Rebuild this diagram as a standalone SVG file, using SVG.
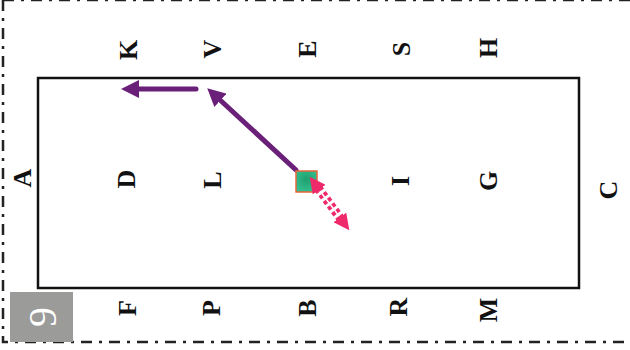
<svg xmlns="http://www.w3.org/2000/svg" width="630" height="350" viewBox="0 0 630 350">
<style>
.lbl{font-family:"Liberation Serif","Times New Roman",serif;font-weight:bold;font-size:26px;fill:#111;text-anchor:middle}
.border{fill:none;stroke:#222;stroke-width:2.5;stroke-dasharray:11 7 3 7}
.purple{stroke:#6a1f78;stroke-width:5;fill:none;stroke-linecap:round}
</style>
<defs>
<marker id="ph" viewBox="0 0 18 18" markerWidth="18" markerHeight="18" markerUnits="userSpaceOnUse" refX="2" refY="9" orient="auto">
<path d="M0,0 L18,9 L0,18 z" fill="#6a1f78"/>
</marker>
<marker id="kh" viewBox="0 0 16 16" markerWidth="16" markerHeight="16" markerUnits="userSpaceOnUse" refX="2" refY="8" orient="auto-start-reverse">
<path d="M0,0 L16,8 L0,16 z" fill="#ee2a6b"/>
</marker>
<radialGradient id="sq" cx="0.5" cy="0.4" r="0.6">
<stop offset="0" stop-color="#1f9e70"/>
<stop offset="1" stop-color="#33c08d"/>
</radialGradient>
</defs>
<rect width="630" height="350" fill="#fff"/>
<g id="frame">
<path class="border" d="M3,0 L3,342 L630,342"/>
<path class="border" d="M3,0 L630,0" stroke="#ccc"/>
</g>
<g id="arena">
<rect x="38" y="78" width="541" height="210" fill="none" stroke="#111" stroke-width="2.5"/>
</g>
<g id="badge">
<rect x="10" y="292" width="63" height="50" fill="#9b9b9a"/>
<text transform="translate(42,317) rotate(-90)" y="14" style="font-family:'Liberation Serif','Times New Roman',serif;font-size:40px;fill:#fff;text-anchor:middle">9</text>
</g>
<g id="letters">
<g id="K"><text class="lbl" transform="translate(128,50) rotate(-90)" y="9">K</text></g>
<g id="V"><text class="lbl" transform="translate(212,49) rotate(-90)" y="9">V</text></g>
<g id="E"><text class="lbl" transform="translate(307,49) rotate(-90)" y="9">E</text></g>
<g id="S"><text class="lbl" transform="translate(401,49) rotate(-90)" y="9">S</text></g>
<g id="H"><text class="lbl" transform="translate(488,48) rotate(-90)" y="9">H</text></g>
<g id="F"><text class="lbl" transform="translate(127,308) rotate(-90)" y="9">F</text></g>
<g id="P"><text class="lbl" transform="translate(211,308) rotate(-90)" y="9">P</text></g>
<g id="B"><text class="lbl" transform="translate(307,308) rotate(-90)" y="9">B</text></g>
<g id="R"><text class="lbl" transform="translate(398,307) rotate(-90)" y="9">R</text></g>
<g id="M"><text class="lbl" transform="translate(488,310) rotate(-90)" y="9">M</text></g>
<g id="A"><text class="lbl" transform="translate(22,178) rotate(-90)" y="9">A</text></g>
<g id="D"><text class="lbl" transform="translate(126,179) rotate(-90)" y="9">D</text></g>
<g id="L"><text class="lbl" transform="translate(212,180) rotate(-90)" y="9">L</text></g>
<g id="I"><text class="lbl" transform="translate(400,181) rotate(-90)" y="9">I</text></g>
<g id="G"><text class="lbl" transform="translate(488,181) rotate(-90)" y="9">G</text></g>
<g id="C"><text class="lbl" transform="translate(608,190) rotate(-90)" y="9">C</text></g>
</g>
<g id="connectors">
<line class="purple" x1="196" y1="89" x2="137" y2="89" marker-end="url(#ph)"/>
<line class="purple" x1="296" y1="170" x2="219" y2="99" marker-end="url(#ph)"/>
</g>
<g id="rider">
<rect x="296" y="171" width="21" height="21" fill="url(#sq)" stroke="#e8643c" stroke-width="1.5"/>
</g>
<g id="pink-arrow">
<line x1="318" y1="188" x2="341" y2="219" stroke="#ee2a6b" stroke-width="9" stroke-dasharray="4 3" marker-start="url(#kh)" marker-end="url(#kh)"/>
<line x1="320" y1="191" x2="339" y2="216" stroke="#fff" stroke-width="1.5"/>
</g>
</svg>
